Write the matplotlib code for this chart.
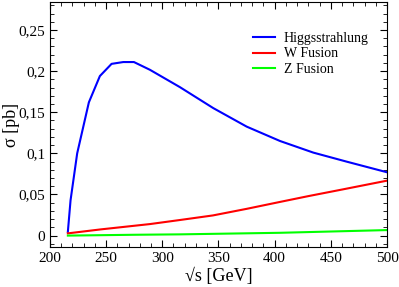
import matplotlib.pyplot as plt
from matplotlib.ticker import MultipleLocator, FuncFormatter

# sqrt(s) in GeV and cross sections in pb
hs_x = [216.0, 218.4, 224.3, 234.7, 244.5, 254.9, 265.3, 274.8, 289, 315.7,
        345.4, 375.1, 404.8, 434.4, 464.1, 500]
hs_y = [0.0046, 0.043, 0.100, 0.162, 0.194, 0.2088, 0.211, 0.211, 0.2016, 0.1805,
        0.155, 0.1325, 0.115, 0.1009, 0.0899, 0.077]

ww_x = [216.0, 245, 289, 316, 345, 360, 375, 405, 430, 460, 500]
ww_y = [0.0027, 0.0075, 0.014, 0.019, 0.0245, 0.0285, 0.0325, 0.041, 0.048, 0.056, 0.0668]

zz_x = [216.0, 275, 315.7, 404.8, 500]
zz_y = [0.0, 0.0010, 0.0015, 0.0034, 0.0067]

plt.rcParams['font.family'] = ['Liberation Serif', 'DejaVu Serif']

fig = plt.figure(figsize=(3.99, 2.87), dpi=100)
ax = fig.add_axes([0.125, 0.139, 0.845, 0.854])

ax.plot(hs_x, hs_y, color='#0000ff', lw=1.5, label='Higgsstrahlung')
ax.plot(ww_x, ww_y, color='#ff0000', lw=1.5, label='W Fusion')
ax.plot(zz_x, zz_y, color='#00ff00', lw=1.5, label='Z Fusion')

ax.set_xlim(200, 500)
ax.set_ylim(-0.014, 0.284)
ax.xaxis.set_major_locator(MultipleLocator(50))
ax.xaxis.set_minor_locator(MultipleLocator(10))
ax.yaxis.set_major_locator(MultipleLocator(0.05))
ax.yaxis.set_minor_locator(MultipleLocator(0.01))
ax.yaxis.set_major_formatter(FuncFormatter(lambda v, p: ('%g' % round(v, 3)).replace('.', ',')))

ax.tick_params(which='both', direction='in', top=True, right=True, labelsize=11)
ax.tick_params(which='major', length=5)
ax.tick_params(which='minor', length=3)

ax.set_xlabel('√s [GeV]', fontsize=13, labelpad=2)
ax.set_ylabel('σ [pb]', fontsize=13)
ax.yaxis.set_label_coords(-0.088, 0.5)

ax.legend(loc='upper right', frameon=False, fontsize=10, handlelength=1.6,
          handletextpad=0.6, labelspacing=0.2, bbox_to_anchor=(0.982, 0.93))

fig.savefig('out.png', dpi=100)
